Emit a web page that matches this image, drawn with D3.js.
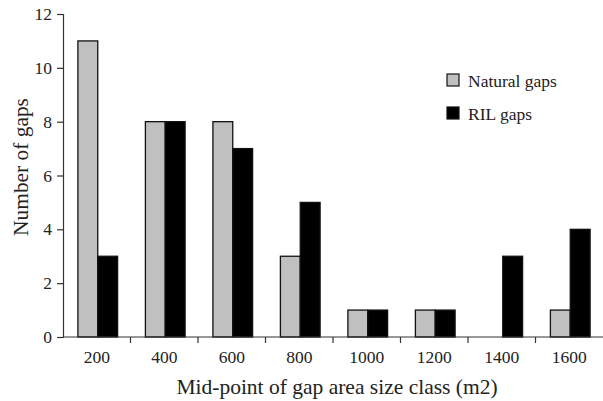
<!DOCTYPE html>
<html>
<head>
<meta charset="utf-8">
<script src="https://cdn.jsdelivr.net/npm/d3@7"></script>
<style>
  body { margin: 0; background: #fff; }
  .axis path, .axis line { stroke: #333; stroke-width: 1.2; }
</style>
</head>
<body>
<svg id="chart" width="603" height="401"></svg>
<script>
const width = 603;
const height = 401;

// data
let sizeClasses = ["200", "400", "600", "800", "1000", "1200", "1400", "1600"];
let naturalGaps = [11, 8, 8, 3, 1, 1, 0, 1];
let rilGaps = [3, 8, 7, 5, 1, 1, 3, 4];
let seriesNames = ["Natural gaps", "RIL gaps"];
let yTicks = [0, 2, 4, 6, 8, 10, 12];

const colors = ["#c0c0c0", "#000000"];
const serif = "Liberation Serif";

const margin = { top: 14, bottom: 64, left: 63, right: 0 };

let svg = d3.select("svg#chart");
const plot = svg.append("g").attr("transform", translate(margin.left, margin.top));

let plotWidth = width - margin.left - margin.right;
let plotHeight = height - margin.top - margin.bottom;

let countScale = d3.scaleLinear().domain([0, 12]).range([plotHeight, 0]);

let classScale = d3.scaleBand()
  .domain(sizeClasses)
  .range([0, plotWidth])
  .paddingInner(0)
  .paddingOuter(0);

let seriesScale = d3.scaleBand()
  .domain(seriesNames)
  .range([0, classScale.bandwidth()])
  .paddingOuter(0.7)
  .paddingInner(0);

/* BARS */
let rows = sizeClasses.map((c, i) => ({ cls: c, values: [naturalGaps[i], rilGaps[i]] }));

const groups = plot.append("g").attr("id", "bars")
  .selectAll("g")
  .data(rows)
  .enter()
  .append("g")
  .attr("transform", d => translate(classScale(d.cls) + 1, 0));

groups.selectAll("rect")
  .data(d => d.values.map((v, k) => ({ name: seriesNames[k], value: v, k: k })).filter(e => e.value > 0))
  .enter()
  .append("rect")
  .attr("x", d => seriesScale(d.name))
  .attr("y", d => countScale(d.value))
  .attr("width", seriesScale.bandwidth())
  .attr("height", d => plotHeight - countScale(d.value))
  .style("fill", d => colors[d.k])
  .style("stroke", "#111")
  .style("stroke-width", 1.3);

/* AXES */
let yAxis = d3.axisLeft(countScale).tickValues(yTicks).tickSizeOuter(0).tickSize(6).tickPadding(5);
let yGroup = plot.append("g").attr("class", "axis").call(yAxis);
yGroup.selectAll("text")
  .style("font-family", serif)
  .style("font-size", "17.5px")
  .style("fill", "#222");

// x axis: labels centred in bands, ticks at band boundaries
let xGroup = plot.append("g").attr("class", "axis").attr("transform", translate(0, plotHeight));
xGroup.append("line").attr("x1", 0).attr("x2", plotWidth).attr("y1", 0).attr("y2", 0);
xGroup.selectAll("line.tick")
  .data(sizeClasses.slice(1))
  .enter()
  .append("line")
  .attr("class", "tick")
  .attr("x1", d => classScale(d))
  .attr("x2", d => classScale(d))
  .attr("y1", 0)
  .attr("y2", 6);
xGroup.selectAll("text")
  .data(sizeClasses)
  .enter()
  .append("text")
  .attr("x", d => classScale(d) + classScale.bandwidth() / 2)
  .attr("y", 26)
  .attr("text-anchor", "middle")
  .style("font-family", serif)
  .style("font-size", "17.5px")
  .style("fill", "#222")
  .text(d => d);

/* AXIS TITLES */
svg.append("text")
  .attr("x", 337)
  .attr("y", 394)
  .attr("text-anchor", "middle")
  .style("font-family", serif)
  .style("font-size", "21.5px")
  .style("fill", "#222")
  .text("Mid-point of gap area size class (m2)");

svg.append("g")
  .attr("transform", translate(28, 167))
  .append("text")
  .attr("transform", "rotate(-90)")
  .attr("text-anchor", "middle")
  .style("font-family", serif)
  .style("font-size", "21.4px")
  .style("fill", "#222")
  .text("Number of gaps");

/* LEGEND */
const legend = svg.append("g").attr("transform", translate(447, 74));
seriesNames.forEach((name, i) => {
  legend.append("rect")
    .attr("x", 0)
    .attr("y", i * 33)
    .attr("width", 12)
    .attr("height", 12)
    .style("fill", colors[i])
    .style("stroke", "#111")
    .style("stroke-width", 1.2);
  legend.append("text")
    .attr("x", 21)
    .attr("y", i * 33 + 13)
    .style("font-family", serif)
    .style("font-size", "17.5px")
    .style("fill", "#222")
    .text(name);
});

function translate(x, y) {
  return "translate(" + String(x) + "," + String(y) + ")";
}
</script>
</body>
</html>
